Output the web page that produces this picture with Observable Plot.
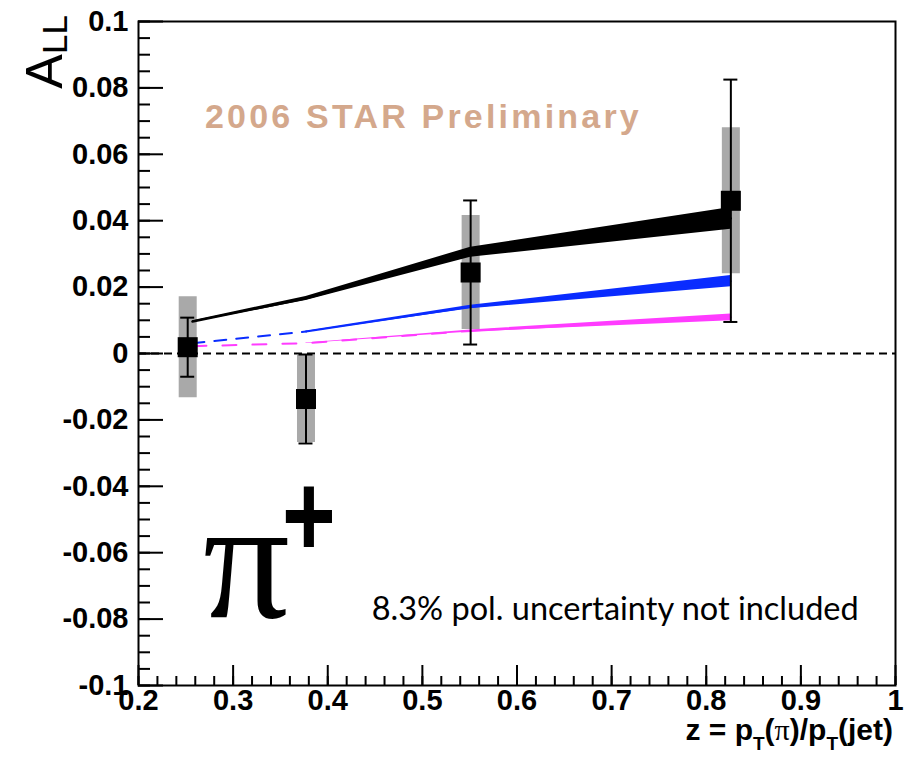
<!DOCTYPE html>
<html>
<head>
<meta charset="utf-8">
<script src="https://cdn.jsdelivr.net/npm/d3@7"></script>
<script src="https://cdn.jsdelivr.net/npm/@observablehq/plot@0.6"></script>
<style>
  body { margin: 0; background: #fff; }
  #chart svg { display: block; }
</style>
</head>
<body>
<div id="chart"></div>
<script>
// Measured double-helicity asymmetry A_LL for pi+ in jets, binned in z
const zBins      = [0.252, 0.377, 0.551, 0.826];
const allValues  = [0.0019, -0.0137, 0.0244, 0.0460];
const statErrors = [0.0089, 0.0134, 0.0217, 0.0365];
const sysErrors  = [0.0152, 0.0131, 0.0172, 0.0220];

// Model expectations evaluated at the same z bins (central value and half-width of band)
const modelZ      = [0.257, 0.377, 0.551, 0.826];
const blackModel  = [0.0096, 0.0166, 0.0305, 0.0407];
const blackHalf   = [0.0003, 0.0006, 0.0015, 0.0033];
const blueModel   = [0.0031, 0.0066, 0.0140, 0.0218];
const blueHalf    = [0.0001, 0.0002, 0.0005, 0.0017];
const magentaModel = [0.0022, 0.0031, 0.0068, 0.0109];
const magentaHalf  = [0.0001, 0.0001, 0.0003, 0.0010];

// Axis ticks
const yMajorTicks = [-0.1, -0.08, -0.06, -0.04, -0.02, 0, 0.02, 0.04, 0.06, 0.08, 0.1];
const yMinorTicks = d3.range(-20, 21).map(i => i * 0.005);
const xMajorTicks = [0.2, 0.3, 0.4, 0.5, 0.6, 0.7, 0.8, 0.9, 1];
const xMinorTicks = d3.range(10, 51).map(i => i * 0.02);

const points = zBins.map((z, i) => ({
  z, a: allValues[i], stat: statErrors[i], sys: sysErrors[i]
}));
const band = (vals, half) => modelZ.map((z, i) => ({ z, a: vals[i], lo: vals[i] - half[i], hi: vals[i] + half[i] }));
const blackRows = band(blackModel, blackHalf);
const blueRows = band(blueModel, blueHalf);
const magentaRows = band(magentaModel, magentaHalf);

const W = 906, H = 758;
const mL = 138, mR = 11, mT = 21, mB = 73;
const innerW = W - mL - mR, innerH = H - mT - mB;

const BLUE = "#0a2cff", MAGENTA = "#ff3cff", GRAY = "#a9a9a9";
const SANS = "'Liberation Sans', Arial, sans-serif";
const fmt = d => String(+d.toFixed(2));

const chart = Plot.plot({
  width: W, height: H,
  marginLeft: mL, marginRight: mR, marginTop: mT, marginBottom: mB,
  style: { fontFamily: SANS, background: "#fff", color: "#000" },
  x: { domain: [0.2, 1] },
  y: { domain: [-0.1, 0.1] },
  marks: [
    // zero reference
    Plot.ruleY([0], { stroke: "#000", strokeWidth: 2, strokeDasharray: "8,5" }),
    // systematic uncertainty boxes
    Plot.ruleX(points, { x: "z", y1: d => d.a - d.sys, y2: d => d.a + d.sys, stroke: GRAY, strokeWidth: 18 }),
    // model bands
    Plot.areaY(magentaRows.slice(1), { x: "z", y1: "lo", y2: "hi", fill: MAGENTA }),
    Plot.line(magentaRows.slice(0, 3), { x: "z", y: "a", stroke: MAGENTA, strokeWidth: 2, strokeDasharray: "14,16" }),
    Plot.line(magentaRows.slice(2), { x: "z", y: "a", stroke: MAGENTA, strokeWidth: 2 }),
    Plot.areaY(blueRows.slice(1), { x: "z", y1: "lo", y2: "hi", fill: BLUE }),
    Plot.line(blueRows.slice(0, 2), { x: "z", y: "a", stroke: BLUE, strokeWidth: 2, strokeDasharray: "12,10" }),
    Plot.line(blueRows.slice(1), { x: "z", y: "a", stroke: BLUE, strokeWidth: 1.6 }),
    Plot.areaY(blackRows, { x: "z", y1: "lo", y2: "hi", fill: "#000" }),
    Plot.line(blackRows, { x: "z", y: "a", stroke: "#000", strokeWidth: 2.4 }),
    // statistical error bars with caps
    Plot.ruleX(points, { x: "z", y1: d => d.a - d.stat, y2: d => d.a + d.stat, stroke: "#000", strokeWidth: 2 }),
    Plot.ruleY(points, { y: d => d.a + d.stat, x1: "z", x2: "z", insetLeft: -7, insetRight: -7, stroke: "#000", strokeWidth: 2 }),
    Plot.ruleY(points, { y: d => d.a - d.stat, x1: "z", x2: "z", insetLeft: -7, insetRight: -7, stroke: "#000", strokeWidth: 2 }),
    // data markers
    Plot.dot(points, { x: "z", y: "a", symbol: "square", r: 11.3, fill: "#000", stroke: null }),
    // inward ticks
    Plot.tickY(yMajorTicks, { y: d => d, insetRight: innerW - 25, stroke: "#000", strokeWidth: 2 }),
    Plot.tickY(yMinorTicks, { y: d => d, insetRight: innerW - 12, stroke: "#000", strokeWidth: 2 }),
    Plot.tickX(xMajorTicks, { x: d => d, insetTop: innerH - 20, stroke: "#000", strokeWidth: 2 }),
    Plot.tickX(xMinorTicks, { x: d => d, insetTop: innerH - 9, stroke: "#000", strokeWidth: 2 }),
    // tick labels
    Plot.axisY(yMajorTicks, { tickSize: 0, tickPadding: 10, tickFormat: fmt, fontSize: 29, fontWeight: "bold", label: null }),
    Plot.axisX(xMajorTicks, { tickSize: 0, tickPadding: 4, tickFormat: fmt, fontSize: 29, fontWeight: "bold", label: null }),
    Plot.frame({ stroke: "#000", strokeWidth: 2 })
  ]
});

document.getElementById("chart").appendChild(chart);

const svg = d3.select(chart);
const sx = chart.scale("x"), sy = chart.scale("y");
const X = v => sx.apply(v), Y = v => sy.apply(v);

// y-axis title A_LL (rotated)
const yt = svg.append("text")
  .attr("transform", `translate(62, 15) rotate(-90)`)
  .attr("text-anchor", "end")
  .style("font-family", SANS)
  .attr("fill", "#000");
yt.append("tspan").attr("font-size", 52).text("A");
yt.append("tspan").attr("font-size", 35).attr("dy", 5).text("LL");

// x-axis title
const xt = svg.append("text")
  .attr("x", mL + innerW - 2).attr("y", 740)
  .attr("text-anchor", "end")
  .attr("font-weight", "bold")
  .attr("font-size", 30)
  .style("font-family", SANS)
  .attr("fill", "#000");
xt.append("tspan").text("z = p");
xt.append("tspan").attr("font-size", 19).attr("dy", 10).text("T");
xt.append("tspan").attr("dy", -10).text("(");
xt.append("tspan").style("font-family", "'Liberation Serif', serif").attr("font-weight", "normal").text("π");
xt.append("tspan").text(")/p");
xt.append("tspan").attr("font-size", 19).attr("dy", 10).text("T");
xt.append("tspan").attr("dy", -10).text("(jet)");

// preliminary label
svg.append("text")
  .attr("x", X(0.2708)).attr("y", Y(0.0678))
  .attr("text-anchor", "start")
  .attr("font-size", 34).attr("font-weight", "bold")
  .attr("letter-spacing", 3.2)
  .style("font-family", SANS)
  .attr("fill", "#d4a88c")
  .text("2006 STAR Preliminary");

// particle label pi+
svg.append("text")
  .attr("x", X(0.2687)).attr("y", Y(-0.0795))
  .attr("text-anchor", "start")
  .attr("font-size", 172)
  .style("font-family", "'Liberation Serif', serif")
  .attr("fill", "#000")
  .text("π");
svg.append("text")
  .attr("transform", `translate(${X(0.3807)}, ${Y(-0.0488)}) scale(1, 1.3)`)
  .attr("text-anchor", "middle").attr("dominant-baseline", "central")
  .attr("font-size", 92).attr("font-weight", "bold")
  .style("font-family", SANS)
  .attr("fill", "#000")
  .text("+");

// polarization note
svg.append("text")
  .attr("x", X(0.447)).attr("y", Y(-0.0804))
  .attr("text-anchor", "start")
  .attr("font-size", 32.5)
  .style("font-family", "Lato, sans-serif")
  .attr("fill", "#000")
  .text("8.3% pol. uncertainty not included");
</script>
</body>
</html>
